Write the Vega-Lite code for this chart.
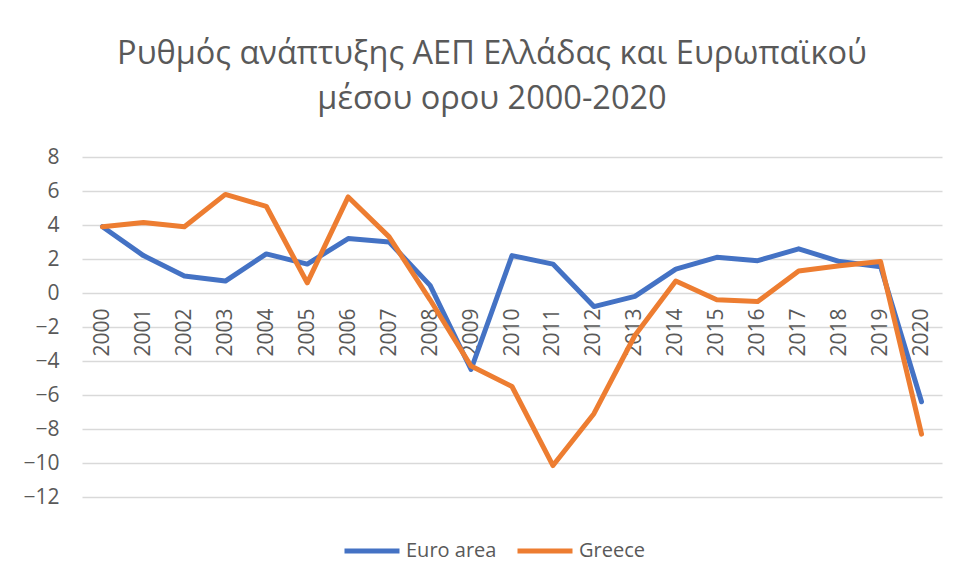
{
  "$schema": "https://vega.github.io/schema/vega-lite/v6.json",
  "width": 860,
  "height": 340,
  "autosize": {"type": "none"},
  "padding": {"left": 82, "top": 157, "right": 19, "bottom": 86},
  "background": "white",
  "title": {
    "text": ["Ρυθμός ανάπτυξης ΑΕΠ Ελλάδας και Ευρωπαϊκού", "μέσου ορου 2000-2020"],
    "font": "Open Sans",
    "fontSize": 32.5,
    "fontWeight": "normal",
    "color": "#595959",
    "lineHeight": 45,
    "anchor": "middle",
    "frame": "group",
    "dx": -20,
    "offset": 31
  },
  "data": {
    "values": [
      {"year": "2000", "series": "Euro area", "value": 3.9},
      {"year": "2001", "series": "Euro area", "value": 2.2},
      {"year": "2002", "series": "Euro area", "value": 1.0},
      {"year": "2003", "series": "Euro area", "value": 0.7},
      {"year": "2004", "series": "Euro area", "value": 2.3},
      {"year": "2005", "series": "Euro area", "value": 1.7},
      {"year": "2006", "series": "Euro area", "value": 3.2},
      {"year": "2007", "series": "Euro area", "value": 3.0},
      {"year": "2008", "series": "Euro area", "value": 0.45},
      {"year": "2009", "series": "Euro area", "value": -4.5},
      {"year": "2010", "series": "Euro area", "value": 2.2},
      {"year": "2011", "series": "Euro area", "value": 1.7},
      {"year": "2012", "series": "Euro area", "value": -0.8},
      {"year": "2013", "series": "Euro area", "value": -0.2},
      {"year": "2014", "series": "Euro area", "value": 1.4},
      {"year": "2015", "series": "Euro area", "value": 2.1},
      {"year": "2016", "series": "Euro area", "value": 1.9},
      {"year": "2017", "series": "Euro area", "value": 2.6},
      {"year": "2018", "series": "Euro area", "value": 1.85},
      {"year": "2019", "series": "Euro area", "value": 1.55},
      {"year": "2020", "series": "Euro area", "value": -6.4},
      {"year": "2000", "series": "Greece", "value": 3.9},
      {"year": "2001", "series": "Greece", "value": 4.15},
      {"year": "2002", "series": "Greece", "value": 3.9},
      {"year": "2003", "series": "Greece", "value": 5.8},
      {"year": "2004", "series": "Greece", "value": 5.1},
      {"year": "2005", "series": "Greece", "value": 0.6},
      {"year": "2006", "series": "Greece", "value": 5.65},
      {"year": "2007", "series": "Greece", "value": 3.3},
      {"year": "2008", "series": "Greece", "value": -0.4},
      {"year": "2009", "series": "Greece", "value": -4.3},
      {"year": "2010", "series": "Greece", "value": -5.5},
      {"year": "2011", "series": "Greece", "value": -10.15},
      {"year": "2012", "series": "Greece", "value": -7.1},
      {"year": "2013", "series": "Greece", "value": -2.5},
      {"year": "2014", "series": "Greece", "value": 0.7},
      {"year": "2015", "series": "Greece", "value": -0.4},
      {"year": "2016", "series": "Greece", "value": -0.5},
      {"year": "2017", "series": "Greece", "value": 1.3},
      {"year": "2018", "series": "Greece", "value": 1.6},
      {"year": "2019", "series": "Greece", "value": 1.85},
      {"year": "2020", "series": "Greece", "value": -8.3}
    ]
  },
  "mark": {"type": "line", "strokeWidth": 5, "strokeCap": "round", "strokeJoin": "round"},
  "encoding": {
    "x": {
      "field": "year",
      "type": "ordinal",
      "scale": {"type": "point", "padding": 0.5},
      "axis": {
        "title": null,
        "orient": "bottom",
        "offset": -204,
        "labelAngle": -90,
        "labelAlign": "right",
        "labelBaseline": "middle",
        "labelPadding": 15,
        "ticks": false,
        "tickSize": 0,
        "domain": false,
        "grid": false,
        "labelFont": "Open Sans",
        "labelFontSize": 21,
        "labelColor": "#595959"
      }
    },
    "y": {
      "field": "value",
      "type": "quantitative",
      "scale": {"domain": [-12, 8], "nice": false, "zero": false},
      "axis": {
        "title": null,
        "values": [-12, -10, -8, -6, -4, -2, 0, 2, 4, 6, 8],
        "ticks": false,
        "tickSize": 0,
        "domain": false,
        "labelPadding": 23,
        "labelFont": "Open Sans",
        "labelFontSize": 21,
        "labelColor": "#595959",
        "gridColor": "#D9D9D9",
        "gridWidth": 1.5
      }
    },
    "color": {
      "field": "series",
      "type": "nominal",
      "scale": {"domain": ["Euro area", "Greece"], "range": ["#4472C4", "#ED7D31"]},
      "legend": {
        "title": null,
        "orient": "none",
        "legendX": 260,
        "legendY": 364,
        "direction": "horizontal",
        "symbolType": "stroke",
        "symbolSize": 3025,
        "symbolStrokeWidth": 5,
        "labelOffset": 4,
        "columnPadding": 10,
        "labelFont": "Open Sans",
        "labelFontSize": 20,
        "labelColor": "#595959"
      }
    }
  },
  "config": {"view": {"stroke": null}}
}
